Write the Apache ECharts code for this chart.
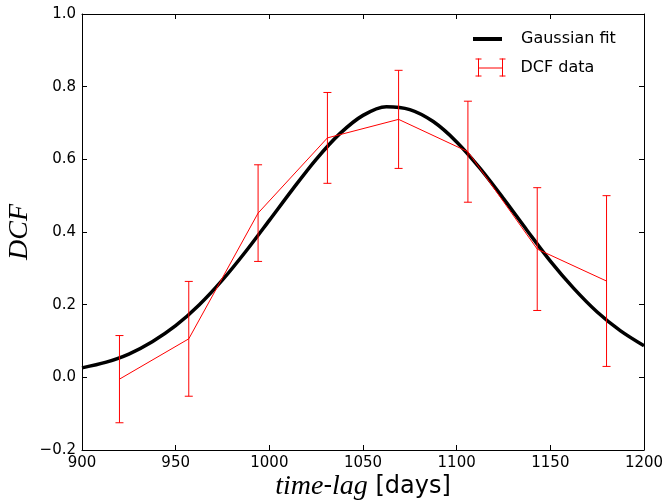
<!DOCTYPE html>
<html>
<head>
<meta charset="utf-8">
<script src="https://cdn.jsdelivr.net/npm/echarts@6/dist/echarts.min.js"></script>
<style>html,body{margin:0;padding:0;background:#fff}#c{width:665px;height:500px}</style>
</head>
<body>
<div id="c"></div>
<script>
// DCF data points (time-lag in days)
const lags = [920, 957, 994, 1031, 1069, 1106, 1143, 1180];
const dcf = [-0.005, 0.106, 0.452, 0.659, 0.710, 0.621, 0.353, 0.265];
const dcfErr = [0.120, 0.158, 0.133, 0.125, 0.135, 0.139, 0.169, 0.235];
// Gaussian fit curve
const fitX = [900, 912.5, 925, 937.5, 950, 962.5, 975, 987.5, 1000, 1012.5, 1025, 1037.5, 1050,
              1062.5, 1075, 1087.5, 1100, 1112.5, 1125, 1137.5, 1150, 1162.5, 1175, 1187.5, 1200];
const fitY = [0.026, 0.041, 0.064, 0.098, 0.142, 0.199, 0.268, 0.347, 0.432, 0.518, 0.600, 0.670, 0.721,
              0.745, 0.737, 0.704, 0.648, 0.575, 0.492, 0.405, 0.320, 0.245, 0.180, 0.128, 0.087];
// axis ticks
const xTicks = [900, 950, 1000, 1050, 1100, 1150, 1200];
const yTicks = [-0.2, 0.0, 0.2, 0.4, 0.6, 0.8, 1.0];

const chart = echarts.init(document.getElementById('c'));
const tickFont = {fontFamily: 'DejaVu Sans', fontSize: 15, color: '#000'};
const axisLine = {show: true, onZero: false, lineStyle: {color: '#000', width: 1}};
const axisTick = {show: true, inside: true, length: 5, lineStyle: {color: '#000', width: 1}};

const xBase = {
  type: 'value', min: xTicks[0], max: xTicks[xTicks.length - 1], interval: 50,
  axisLine: axisLine, axisTick: axisTick, splitLine: {show: false}
};
const yBase = {
  type: 'value', min: yTicks[0], max: yTicks[yTicks.length - 1], interval: 0.2,
  axisLine: axisLine, axisTick: axisTick, splitLine: {show: false}
};

// legend entry for the error-bar data (icon + label)
const red = {stroke: '#ff0000', lineWidth: 1};
const dcfLegend = {
  type: 'group', left: 473, top: 56,
  children: [
    {type: 'line', shape: {x1: 0, y1: 0.5, x2: 6, y2: 0.5}, style: red},
    {type: 'line', shape: {x1: 3, y1: 0, x2: 3, y2: 18}, style: red},
    {type: 'line', shape: {x1: 0, y1: 17.5, x2: 6, y2: 17.5}, style: red},
    {type: 'line', shape: {x1: 3, y1: 9.5, x2: 27, y2: 9.5}, style: red},
    {type: 'line', shape: {x1: 24, y1: 0.5, x2: 30, y2: 0.5}, style: red},
    {type: 'line', shape: {x1: 27, y1: 0, x2: 27, y2: 18}, style: red},
    {type: 'line', shape: {x1: 24, y1: 17.5, x2: 30, y2: 17.5}, style: red},
    {type: 'text', x: 45, y: 9, style: {text: 'DCF data', fontFamily: 'DejaVu Sans', fontSize: 16,
      fill: '#000', verticalAlign: 'middle', align: 'left'}}
  ]
};

chart.setOption({
  animation: false,
  backgroundColor: '#fff',
  grid: {left: 82, right: 21, top: 14, bottom: 50, containLabel: false, outerBoundsMode: 'none'},
  legend: [
    {
      data: [{name: 'Gaussian fit', icon: 'rect', itemStyle: {color: '#000'}}],
      left: 473, top: 31, padding: 0, itemWidth: 29, itemHeight: 4,
      symbolKeepAspect: false, selectedMode: false,
      textStyle: {fontFamily: 'DejaVu Sans', fontSize: 16, color: '#000', padding: [0, 0, 0, 14]}
    }
  ],
  graphic: [dcfLegend],
  xAxis: [
    Object.assign({}, xBase, {
      position: 'bottom',
      axisLabel: Object.assign({margin: 6, formatter: v => String(v)}, tickFont),
      name: '{i|time}{n|-}{i|lag}{s| [days]}',
      nameLocation: 'middle', nameGap: 23, nameMoveOverlap: false,
      nameTextStyle: {
        rich: {
          i: {fontFamily: 'Liberation Serif', fontStyle: 'italic', fontSize: 28, color: '#000'},
          n: {fontFamily: 'DejaVu Sans', fontSize: 24, color: '#000'},
          s: {fontFamily: 'DejaVu Sans', fontSize: 24, color: '#000'}
        }
      }
    }),
    Object.assign({}, xBase, {position: 'top', axisLabel: {show: false}})
  ],
  yAxis: [
    Object.assign({}, yBase, {
      position: 'left',
      axisLabel: Object.assign({margin: 6, formatter: v => v.toFixed(1).replace('-', '\u2212')}, tickFont),
      name: 'DCF', nameLocation: 'middle', nameGap: 48, nameRotate: 90, nameMoveOverlap: false,
      nameTextStyle: {fontFamily: 'Liberation Serif', fontStyle: 'italic', fontSize: 28, color: '#000'}
    }),
    Object.assign({}, yBase, {position: 'right', axisLabel: {show: false}})
  ],
  series: [
    {
      name: 'Gaussian fit', type: 'line', smooth: 0.3, symbol: 'none',
      data: fitX.map((x, i) => [x, fitY[i]]),
      lineStyle: {color: '#000', width: 3.5}, itemStyle: {color: '#000'}, z: 2
    },
    {
      name: 'DCF data', type: 'line', symbol: 'none',
      data: lags.map((x, i) => [x, dcf[i]]),
      lineStyle: {color: '#ff0000', width: 1}, itemStyle: {color: '#ff0000'}, z: 3
    },
    {
      name: 'DCF data', type: 'custom', z: 4,
      data: lags.map((x, i) => [x, dcf[i] - dcfErr[i], dcf[i] + dcfErr[i]]),
      encode: {x: 0, y: [1, 2]},
      itemStyle: {color: '#ff0000'},
      renderItem: function (params, api) {
        const lo = api.coord([api.value(0), api.value(1)]);
        const hi = api.coord([api.value(0), api.value(2)]);
        const hw = 4;
        const st = {stroke: '#ff0000', lineWidth: 1};
        return {
          type: 'group',
          children: [
            {type: 'line', shape: {x1: lo[0], y1: lo[1], x2: hi[0], y2: hi[1]}, style: st},
            {type: 'line', shape: {x1: lo[0] - hw, y1: lo[1], x2: lo[0] + hw, y2: lo[1]}, style: st},
            {type: 'line', shape: {x1: hi[0] - hw, y1: hi[1], x2: hi[0] + hw, y2: hi[1]}, style: st}
          ]
        };
      }
    }
  ]
});
</script>
</body>
</html>
